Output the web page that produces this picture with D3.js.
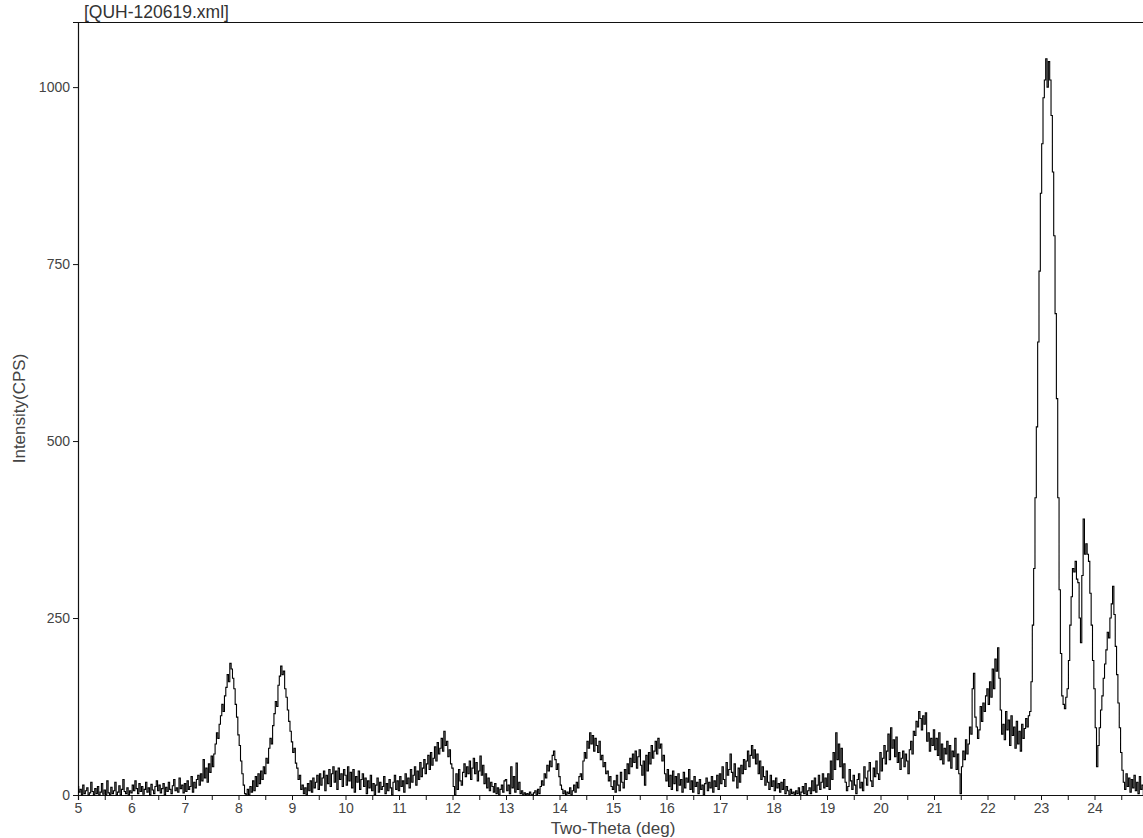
<!DOCTYPE html>
<html>
<head>
<meta charset="utf-8">
<script src="https://cdn.jsdelivr.net/npm/d3@7"></script>
<style>
  html, body { margin: 0; padding: 0; background: #fff; }
  svg { display: block; }
  text { font-family: "Liberation Sans", Arial, sans-serif; }
</style>
</head>
<body>
<svg id="chart" width="1143" height="838"></svg>
<script>
// Scan file name shown above the frame
const fileTitle = "[QUH-120619.xml]";
const xTitle = "Two-Theta (deg)";
const yTitle = "Intensity(CPS)";

// Scan grid (degrees 2θ)
const scanStart = 5.0;
const scanStep = 0.025;

// Measured counts, one row per degree (40 steps each)
const intensity = [
  // 5
  12, 4, 8, 0, 14, 2, 6, 10, 0, 3, 18, 5, 0, 9, 2, 12, 0, 4, 16, 1, 7, 0, 20, 3, 0, 11, 2, 6, 18, 0, 4, 13, 0, 8, 22, 5, 2, 10, 0, 6,
  // 6
  3, 14, 6, 20, 9, 2, 16, 5, 12, 1, 8, 18, 4, 10, 0, 15, 7, 2, 12, 20, 6, 14, 3, 9, 16, 0, 11, 5, 18, 8, 2, 13, 22, 6, 10, 4, 24, 9, 14, 3,
  // 7
  16, 5, 20, 8, 12, 26, 4, 18, 10, 22, 28, 14, 30, 20, 50, 24, 38, 18, 44, 32, 55, 40, 58, 72, 88, 80, 100, 112, 128, 118, 140, 152, 170, 160, 186, 178, 165, 150, 128, 110,
  // 8
  85, 70, 48, 30, 14, 2, 0, 8, 0, 12, 4, 20, 6, 26, 12, 30, 16, 34, 22, 40, 30, 52, 45, 66, 80, 72, 98, 115, 132, 125, 155, 168, 182, 170, 175, 150, 138, 120, 104, 90,
  // 9
  75, 60, 66, 45, 38, 22, 28, 8, 14, 2, 10, 0, 16, 6, 20, 4, 24, 10, 18, 28, 8, 30, 14, 24, 34, 6, 28, 16, 36, 12, 30, 40, 18, 34, 8, 38, 22, 30, 12, 36,
  // 10
  28, 14, 40, 20, 32, 10, 36, 4, 26, 18, 34, 8, 22, 30, 12, 24, 2, 20, 10, 28, 6, 16, 0, 14, 24, 4, 18, 8, 12, 26, 2, 16, 6, 22, 10, 0, 18, 28, 8, 20,
  // 11
  6, 26, 12, 20, 4, 30, 16, 24, 10, 36, 18, 28, 40, 14, 34, 22, 46, 26, 38, 50, 30, 44, 56, 36, 60, 42, 52, 68, 48, 74, 58, 66, 80, 62, 90, 70, 76, 54, 64, 44,
  // 12
  38, 12, 0, 30, 8, 36, 20, 14, 32, 44, 26, 40, 30, 48, 22, 38, 52, 30, 46, 20, 34, 55, 28, 42, 16, 30, 10, 24, 6, 18, 12, 4, 16, 2, 10, 0, 8, 14, 4, 20,
  // 13
  22, 6, 14, 2, 40, 10, 26, 4, 45, 8, 18, 2, 6, 0, 3, 0, 2, 0, 4, 1, 0, 3, 6, 0, 8, 2, 12, 20, 14, 30, 24, 42, 34, 48, 40, 56, 62, 50, 36, 44,
  // 14
  26, 14, 8, 2, 6, 0, 4, 2, 10, 0, 6, 14, 4, 18, 10, 26, 30, 22, 48, 60, 52, 76, 66, 88, 72, 84, 62, 80, 70, 60, 76, 50, 56, 40, 46, 30, 34, 20, 26, 12,
  // 15
  8, 20, 4, 28, 14, 6, 32, 18, 10, 36, 22, 44, 30, 52, 40, 58, 46, 62, 38, 54, 64, 42, 28, 48, 14, 56, 34, 60, 44, 70, 52, 62, 76, 58, 80, 66, 72, 48, 56, 30,
  // 16
  20, 36, 12, 28, 8, 34, 16, 26, 6, 30, 14, 22, 4, 32, 10, 24, 18, 36, 8, 20, 4, 26, 12, 18, 2, 22, 8, 14, 0, 16, 24, 6, 18, 10, 26, 4, 20, 12, 28, 8,
  // 17
  30, 16, 40, 22, 12, 46, 28, 36, 58, 32, 20, 44, 26, 10, 38, 18, 42, 30, 50, 36, 48, 62, 40, 56, 70, 52, 64, 44, 58, 30, 48, 22, 40, 26, 14, 34, 18, 8, 28, 12,
  // 18
  20, 6, 24, 10, 16, 4, 18, 8, 22, 2, 12, 6, 0, 8, 2, 4, 0, 6, 2, 10, 0, 4, 12, 2, 16, 0, 6, 10, 2, 20, 6, 24, 4, 14, 28, 8, 18, 30, 10, 24,
  // 19
  12, 30, 8, 48, 22, 60, 36, 88, 50, 72, 40, 66, 24, 44, 18, 6, 12, 36, 20, 8, 28, 14, 2, 22, 30, 10, 18, 6, 40, 24, 14, 34, 46, 20, 12, 38, 26, 48, 30, 22,
  // 20
  60, 34, 52, 70, 44, 62, 86, 50, 95, 66, 78, 54, 82, 46, 60, 36, 52, 62, 40, 58, 48, 30, 64, 76, 58, 90, 84, 104, 96, 118, 108, 92, 112, 100, 116, 76, 88, 62, 80, 70,
  // 21
  92, 64, 80, 56, 88, 50, 72, 44, 66, 58, 76, 48, 70, 38, 62, 54, 80, 36, 58, 30, 2, 40, 62, 50, 78, 58, 72, 96, 86, 150, 172, 110, 96, 80, 92, 125, 104, 130, 118, 140,
  // 22
  150, 128, 160, 138, 178, 150, 192, 175, 208, 165, 120, 86, 100, 78, 118, 92, 106, 70, 112, 84, 96, 66, 104, 72, 90, 62, 100, 80, 94, 108, 96, 112, 118, 160, 240, 320, 420, 520, 640, 740,
  // 23
  850, 920, 985, 1010, 1040, 1000, 1036, 1010, 960, 880, 790, 680, 560, 420, 290, 200, 140, 128, 122, 138, 150, 190, 240, 280, 320, 315, 330, 305, 300, 250, 215, 310, 390, 340, 355, 340, 330, 285, 240, 190,
  // 24
  150, 95, 40, 70, 95, 120, 140, 165, 185, 205, 230, 222, 250, 270, 295, 255, 210, 170, 130, 95, 60, 35, 18, 8, 30, 12, 24, 4, 22, 10, 28, 6, 18, 2, 26, 8, 14, 0, 20, 6
];

// Axis ticks
const yTicks = [0, 250, 500, 750, 1000];
const xMajorTicks = [5, 6, 7, 8, 9, 10, 11, 12, 13, 14, 15, 16, 17, 18, 19, 20, 21, 22, 23, 24, 25];
const xMinorTicks = [5.5, 6.5, 7.5, 8.5, 9.5, 10.5, 11.5, 12.5, 13.5, 14.5, 15.5, 16.5, 17.5, 18.5, 19.5, 20.5, 21.5, 22.5, 23.5, 24.5];

const data = intensity.map((v, i) => ({ t: scanStart + i * scanStep, c: v }));

const svg = d3.select("#chart");
const plotLeft = 78, plotTop = 22, plotBottom = 795, plotRight = 1148;

const x = d3.scaleLinear().domain([5, 25]).range([plotLeft, plotRight]);
const y = d3.scaleLinear().domain([0, 1092]).range([plotBottom, plotTop]);

const labelColor = "#444";
const font = "'Liberation Sans', Arial, sans-serif";

// Frame: top border
svg.append("line")
  .attr("x1", plotLeft).attr("x2", 1143).attr("y1", plotTop + 0.5).attr("y2", plotTop + 0.5)
  .attr("stroke", "#111").attr("stroke-width", 1.2);

// Y axis
const yAxis = d3.axisLeft(y).tickValues(yTicks).tickSize(5).tickPadding(3).tickFormat(d3.format("d"));
const gy = svg.append("g").attr("transform", `translate(${plotLeft},0)`).call(yAxis);
gy.select(".domain").attr("stroke", "#111").attr("stroke-width", 1.2);
gy.selectAll(".tick line").attr("stroke", "#111");
gy.selectAll(".tick text").attr("fill", labelColor).style("font-size", "14px").style("font-family", font);

// X axis: labelled integer ticks plus half-degree minor ticks
const xAxis = d3.axisBottom(x).tickValues(xMajorTicks).tickSize(5).tickPadding(3).tickFormat(d3.format("d"));
const gx = svg.append("g").attr("transform", `translate(0,${plotBottom})`).call(xAxis);
gx.select(".domain").attr("stroke", "#111").attr("stroke-width", 1.2);
gx.selectAll(".tick line").attr("stroke", "#111");
gx.selectAll(".tick text").attr("fill", labelColor).style("font-size", "14px").style("font-family", font);
gx.selectAll(".tick").filter(d => d === 25).select("text").remove();

svg.append("g").attr("transform", `translate(0,${plotBottom})`)
  .call(d3.axisBottom(x).tickValues(xMinorTicks).tickSize(5).tickFormat(""))
  .call(g => g.select(".domain").remove())
  .selectAll(".tick line").attr("stroke", "#111");

// Diffraction pattern
const line = d3.line()
  .x(d => x(d.t))
  .y(d => y(d.c))
  .curve(d3.curveStep);

svg.append("path")
  .datum(data)
  .attr("fill", "none")
  .attr("stroke", "#000")
  .attr("stroke-width", 1.1)
  .attr("d", line);

// Titles
svg.append("text")
  .attr("x", 84).attr("y", 18)
  .attr("fill", "#333")
  .style("font-size", "17.5px")
  .text(fileTitle);

svg.append("text")
  .attr("x", (plotLeft + plotRight) / 2).attr("y", 834)
  .attr("text-anchor", "middle")
  .attr("fill", labelColor)
  .style("font-size", "17px")
  .text(xTitle);

svg.append("text")
  .attr("transform", `translate(25,${(plotTop + plotBottom) / 2}) rotate(-90)`)
  .attr("text-anchor", "middle")
  .attr("fill", labelColor)
  .style("font-size", "17px")
  .text(yTitle);
</script>
</body>
</html>
